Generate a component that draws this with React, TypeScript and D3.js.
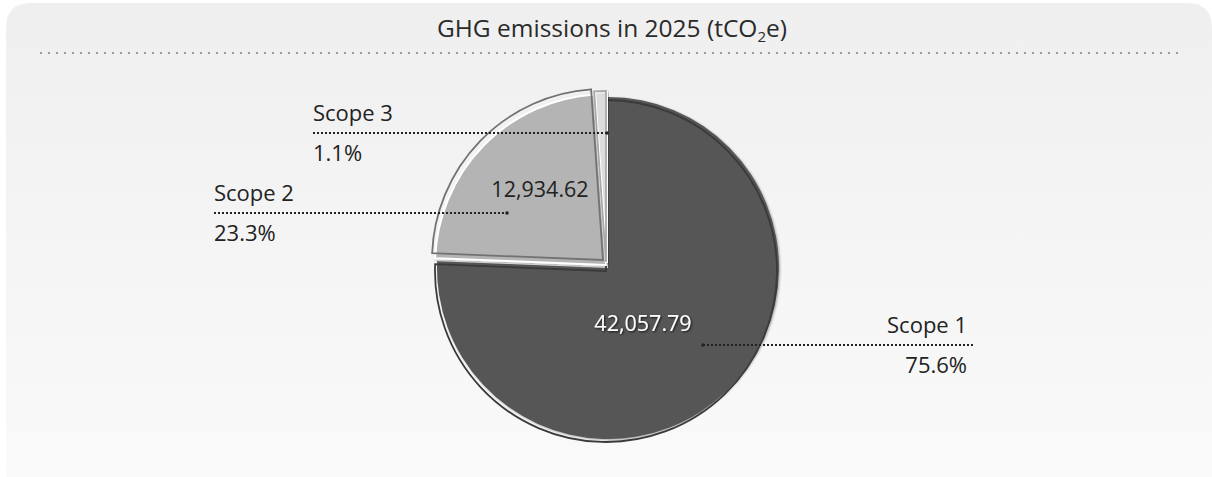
import * as d3 from 'd3';
import React from 'react';

const categories = ['Scope 1', 'Scope 2', 'Scope 3'];
const emissions = [42057.79, 12934.62, 615.4];
const title = 'GHG emissions in 2025 (tCO';

const fills = ['#565656', '#b4b4b4', '#dcdcdc'];
const outlines = ['#3a3a3a', '#727272', '#a8a8a8'];

const W = 1212;
const H = 477;
const cx = 608;
const cy = 268;
const R = 171;

// explode offset of the slice, then the offset of its outline ring
const explode = [
  [0, 0],
  [-2, -3],
  [-1, -5],
];
const ring = [
  [-2, 3],
  [-3, -5],
  [-1, -1],
];

// leader lines: [x1, x2, y], text anchor side
const leaders = [
  { x1: 703, x2: 973, y: 345, side: 'right' },
  { x1: 214, x2: 507, y: 213, side: 'left' },
  { x1: 313, x2: 607, y: 133, side: 'left' },
];
const valuePos = [
  [643, 331],
  [540, 197],
];

export default function App() {
  const total = d3.sum(emissions);
  const pie = d3
    .pie<number>()
    .sort(null)
    .value((d) => d);
  const arcs = pie(emissions);
  const arc = d3.arc<d3.PieArcDatum<number>>().innerRadius(0).outerRadius(R);
  const fmt = d3.format(',.2f');
  const pct = (v: number) => ((v / total) * 100).toFixed(1) + '%';
  const font = '"Open Sans", "Noto Sans", sans-serif';

  const panel = `M6,${H} L6,28 Q6,3 31,3 L1187,3 Q1212,3 1212,28 L1212,${H} Z`;

  return (
    <svg
      width={W}
      height={H}
      style={{ position: 'absolute', left: 0, top: 0 }}
      fontFamily={font}
    >
      <defs>
        <linearGradient id="bg" x1="0" y1="0" x2="0" y2="1">
          <stop offset="0" stopColor="#efefef" />
          <stop offset="1" stopColor="#fafafa" />
        </linearGradient>
        <filter id="shade" x="-10%" y="-10%" width="120%" height="120%">
          <feDropShadow dx="1" dy="1" stdDeviation="1.2" floodColor="#000" floodOpacity="0.35" />
        </filter>
        <filter id="txt" x="-10%" y="-30%" width="120%" height="160%">
          <feDropShadow dx="1" dy="1" stdDeviation="0.8" floodColor="#000" floodOpacity="0.8" />
        </filter>
      </defs>
      <path d={panel} fill="url(#bg)" />

      <text x={cx + 4} y={37} textAnchor="middle" fontSize={24.5} fill="#2a2a2a">
        {title}
        <tspan fontSize={15} dy={5}>2</tspan>
        <tspan dy={-5}>e)</tspan>
      </text>
      <line
        x1={40}
        x2={1182}
        y1={53}
        y2={53}
        stroke="#9a9a9a"
        strokeWidth={2}
        strokeDasharray="2 6"
      />

      {arcs.map((a, i) => {
        const [ex, ey] = explode[i];
        const [rx, ry] = ring[i];
        return (
          <g key={categories[i]} transform={`translate(${cx + ex},${cy + ey})`}>
            <path
              d={arc(a) || ''}
              fill={fills[i]}
              stroke={i === 0 ? 'none' : '#fff'}
              strokeWidth={2}
              filter="url(#shade)"
            />
            <path
              d={arc(a) || ''}
              transform={`translate(${rx},${ry})`}
              fill="none"
              stroke={outlines[i]}
              strokeWidth={1.8}
            />
          </g>
        );
      })}

      {valuePos.map(([x, y], i) => (
        <text
          key={'v' + i}
          x={x}
          y={y}
          textAnchor="middle"
          fontSize={21.5}
          fill={i === 0 ? '#fff' : '#222'}
          filter={i === 0 ? 'url(#txt)' : undefined}
        >
          {fmt(emissions[i])}
        </text>
      ))}

      {leaders.map((l, i) => {
        const tx = l.side === 'right' ? l.x2 - 6 : l.x1;
        const anchor = l.side === 'right' ? 'end' : 'start';
        const dotX = l.side === 'right' ? l.x1 : l.x2;
        return (
          <g key={'l' + i}>
            <line
              x1={l.x1}
              x2={l.x2}
              y1={l.y}
              y2={l.y}
              stroke="#222"
              strokeWidth={2}
              strokeDasharray="2 2"
            />
            <circle cx={dotX} cy={l.y} r={1.8} fill="#222" />
            <text x={tx} y={l.y - 12.5} textAnchor={anchor} fontSize={22} fill="#222">
              {categories[i]}
            </text>
            <text x={tx} y={l.y + 28} textAnchor={anchor} fontSize={22} fill="#222">
              {pct(emissions[i])}
            </text>
          </g>
        );
      })}
    </svg>
  );
}
